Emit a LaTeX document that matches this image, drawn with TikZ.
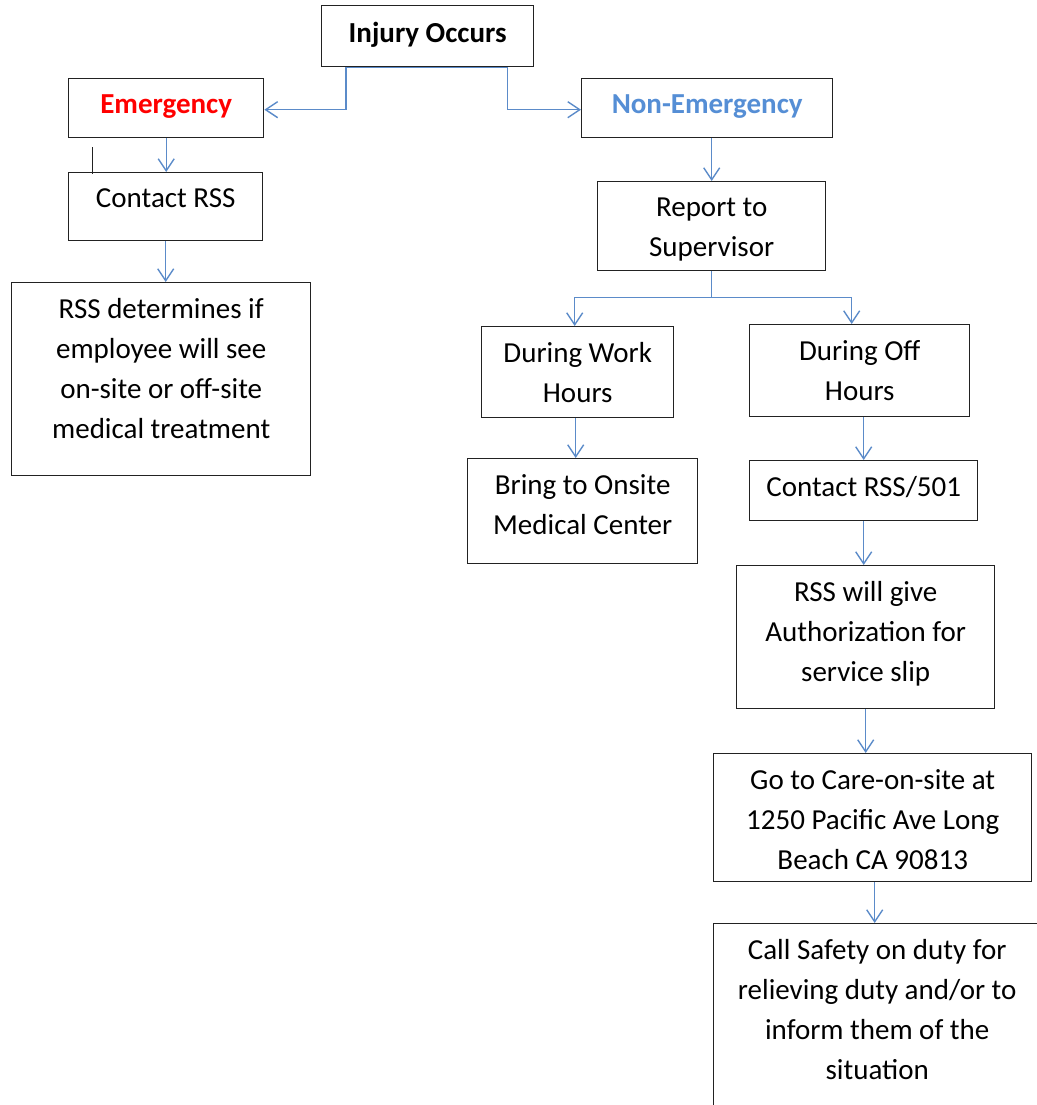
\documentclass[tikz,border=0pt]{standalone}
\usepackage{fontspec}
\setmainfont{Carlito}
\usetikzlibrary{arrows.meta}
\definecolor{conn}{HTML}{5B8BC9}
\definecolor{nemblue}{HTML}{558ED5}
\definecolor{edge}{HTML}{222222}
\tikzset{
  boxstyle/.style={draw=edge, line width=1.4pt, inner sep=0pt, anchor=north west,
    font=\fontsize{29}{40}\selectfont},
  arr/.style={draw=conn, line width=1.4pt, -{Straight Barb[length=12pt,width=16pt,line width=1.4pt]}}
}
\newcommand\flowbox[6]{\node[boxstyle] (#1) at (#2,-#3)
  {\parbox[c][\dimexpr #5pt-#3pt\relax][t]{\dimexpr #4pt-#2pt\relax}{\centering\vspace*{16pt}#6\par}};}
\begin{document}
\begin{tikzpicture}[x=1pt,y=1pt]
\useasboundingbox (0,0) rectangle (1036,-1105);
\flowbox{inj}{321}{5}{533}{66}{\textbf{Injury Occurs}}
\flowbox{emg}{68}{78}{263}{137}{\textcolor{red}{\textbf{Emergency}}}
\flowbox{nem}{581}{78}{832}{137}{\textcolor{nemblue}{\textbf{Non-Emergency}}}
\flowbox{crss}{68}{172}{262}{240}{Contact RSS}
\flowbox{rssd}{11}{282}{310}{475}{RSS determines if\\employee will see\\on-site or off-site\\medical treatment}
\flowbox{rep}{597}{181}{825}{270}{Report to\\Supervisor}
\flowbox{work}{481}{326}{673}{417}{During Work\\Hours}
\flowbox{off}{749}{324}{969}{416}{During Off\\Hours}
\flowbox{bring}{467}{458}{697}{563}{Bring to Onsite\\Medical Center}
\flowbox{c501}{749}{460}{977}{520}{Contact RSS/501}
\flowbox{give}{736}{565}{994}{708}{RSS will give\\Authorization for\\service slip}
\flowbox{care}{713}{753}{1031}{881}{Go to Care-on-site at\\1250 Pacific Ave Long\\Beach CA 90813}
\flowbox{call}{713}{923}{1040}{1115}{Call Safety on duty for\\relieving duty and/or to\\inform them of the\\situation}
% connectors
\draw[draw=conn, line width=1.4pt] ([xshift=25pt]inj.south west) -- ([xshift=-27pt]inj.south east);
\draw[arr] ([xshift=25pt]inj.south west) |- ([yshift=-1.5pt]emg.east);
\draw[arr] ([xshift=-27pt]inj.south east) |- ([yshift=-1.5pt]nem.west);
\draw[arr] (emg.south) -- (emg.south |- crss.north);
\draw[edge, line width=1pt] ([xshift=24pt,yshift=25pt]crss.north west) -- ([xshift=24pt,yshift=-2pt]crss.north west);
\draw[arr] (crss.south) -- (crss.south |- rssd.north);
\draw[arr] (rep.north |- nem.south) -- (rep.north);
\draw[arr] (rep.south) -- ++(0,-26) -| ([xshift=-3pt]work.north);
\draw[arr] (rep.south) -- ++(0,-26) -| ([xshift=-8pt]off.north);
\draw[arr] ([xshift=-2pt]work.south) -- ([xshift=-2pt]work.south |- bring.north);
\draw[arr] (c501.north |- off.south) -- (c501.north);
\draw[arr] (c501.south) -- (c501.south |- give.north);
\draw[arr] (give.south) -- (give.south |- care.north);
\draw[arr] ([xshift=2pt]care.south) -- ([xshift=2pt]care.south |- call.north);
\end{tikzpicture}
\end{document}
